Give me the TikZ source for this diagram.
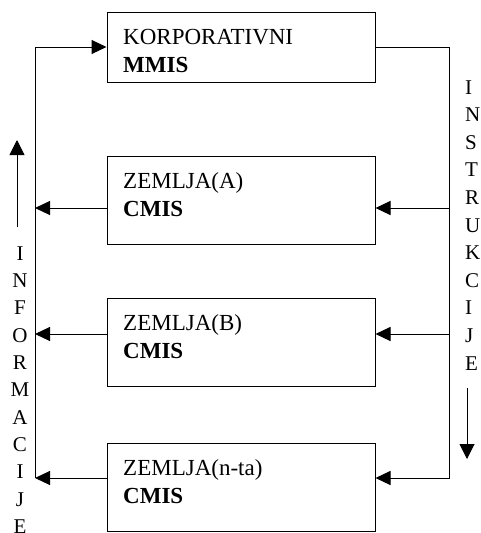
\documentclass[tikz,border=0pt]{standalone}
\usepackage{fontspec}
\setmainfont{Liberation Serif}
\usetikzlibrary{arrows.meta}
\begin{document}
\begin{tikzpicture}[x=1pt,y=-1pt,
  box/.style={draw, line width=1pt, minimum width=268pt, inner sep=0pt},
  txt/.style={anchor=base west, inner sep=0pt, font=\fontsize{23}{26}\selectfont},
  btxt/.style={txt, font=\fontsize{23}{26}\selectfont\bfseries},
  side/.style={anchor=base, inner sep=0pt, font=\fontsize{21}{24}\selectfont},
  sider/.style={anchor=base west, inner sep=0pt, font=\fontsize{21}{24}\selectfont},
  link/.style={line width=1pt, -{Triangle[length=15pt, width=14pt]}},
  flow/.style={line width=1pt, -{Triangle[length=15pt, width=15pt]}}]
\useasboundingbox (0,0) rectangle (480,533);

% boxes
\node[box, minimum height=70pt] (k) at (241,47) {};
\node[box, minimum height=88pt] (a) at (241,200) {};
\node[box, minimum height=88pt] (b) at (241,342) {};
\node[box, minimum height=88pt] (n) at (241,487) {};

% box texts
\node[txt]  (k1) at (123,44)  {KORPORATIVNI};
\node[btxt] (k2) at (123,72)  {MMIS};
\node[txt]  (a1) at (123,188) {ZEMLJA(A)};
\node[btxt] (a2) at (123,216) {CMIS};
\node[txt]  (b1) at (123,330) {ZEMLJA(B)};
\node[btxt] (b2) at (123,358) {CMIS};
\node[txt]  (n1) at (123,475) {ZEMLJA(n-ta)};
\node[btxt] (n2) at (123,503) {CMIS};

% left bus (information upwards)
\coordinate (ltop) at (35,47);
\coordinate (la) at (35,208);
\coordinate (lb) at (35,334);
\coordinate (ln) at (35,478);
\draw[link] (ln) -- (ltop) -- (k.west);
\draw[link] (a.west |- la) -- (la);
\draw[link] (b.west |- lb) -- (lb);
\draw[link] (n.west |- ln) -- (ln);

% right bus (instructions downwards)
\coordinate (rtop) at (449,47);
\coordinate (ra) at (449,208);
\coordinate (rb) at (449,334);
\coordinate (rn) at (449,478);
\draw[link] (k.east) -- (rtop) -- (rn) -- (n.east |- rn);
\draw[link] (ra) -- (a.east |- ra);
\draw[link] (rb) -- (b.east |- rb);

% direction arrows
\coordinate (up0) at (17,227);
\coordinate (up1) at (17,140);
\draw[flow] (up0) -- (up1);
\coordinate (dn0) at (467,388);
\coordinate (dn1) at (467,459);
\draw[flow] (dn0) -- (dn1);

% vertical labels
\foreach \ch [count=\i from 0] in {I,N,F,O,R,M,A,C,I,J,E}
  \node[side] (inf\i) at (20,{260+27.35*\i}) {\ch};
\foreach \ch [count=\i from 0] in {I,N,S,T,R,U,K,C,I,J,E}
  \node[sider] (ins\i) at (465,{94+27.6*\i}) {\ch};
\end{tikzpicture}
\end{document}
